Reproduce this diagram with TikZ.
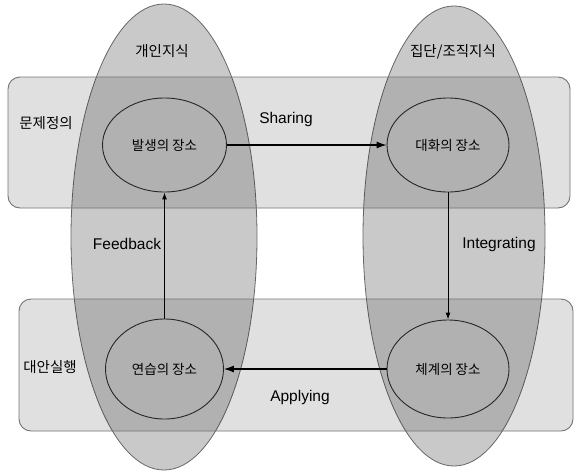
\documentclass[tikz,border=0pt]{standalone}
\usepackage{fontspec}
\setmainfont{Liberation Sans}
\newfontfamily\kr{Noto Sans CJK KR}
\usetikzlibrary{shapes.geometric,arrows.meta}
\begin{document}
\begin{tikzpicture}[x=1pt,y=-1pt,
  bigell/.style={ellipse, draw=black!60, line width=0.8pt, fill=black, fill opacity=0.21, inner sep=0pt},
  band/.style={rectangle, rounded corners=12pt, draw=black!55, line width=0.9pt, fill=black, fill opacity=0.12, inner sep=0pt},
  place/.style={ellipse, draw=black!85, line width=0.9pt, inner sep=0pt, font=\kr\fontsize{13.5}{15}\selectfont},
  krlbl/.style={font=\kr\fontsize{14.5}{16}\selectfont, inner sep=1pt},
  enlbl/.style={font=\fontsize{15.5}{18}\selectfont, inner sep=1pt},
  flow/.style={line width=1.1pt, -{Latex[length=10pt,width=7pt]}},
  flowsmall/.style={line width=1.0pt, -{Latex[length=7pt,width=5pt]}}]
  \useasboundingbox (0,0) rectangle (577,474);

  % knowledge columns
  \node[bigell, minimum width=186pt, minimum height=466pt] (indiv) at (164,237) {};
  \node[bigell, minimum width=182pt, minimum height=460pt] (group) at (454,236) {};

  % activity bands
  \node[band, minimum width=562pt, minimum height=131pt] (define) at (289,142.5) {};
  \node[band, minimum width=554pt, minimum height=132pt] (act) at (296,365) {};

  % column and band titles
  \node[krlbl] (indivT) at (162,51) {개인지식};
  \node[krlbl] (groupT) at (453,52) {집단/조직지식};
  \node[krlbl] (defineT) at (46,123) {문제정의};
  \node[krlbl] (actT) at (50,367) {대안실행};

  % places
  \node[place, minimum width=124pt, minimum height=94pt] (hb) at (164.5,145) {발생의 장소};
  \node[place, minimum width=122pt, minimum height=94pt] (dh) at (448,145) {대화의 장소};
  \node[place, minimum width=118pt, minimum height=100pt] (ys) at (164.5,369) {연습의 장소};
  \node[place, minimum width=122pt, minimum height=98pt] (cg) at (448,369) {체계의 장소};

  % knowledge flows
  \draw[flow] (hb.east) -- (dh.west);
  \draw[flowsmall] (dh.south) -- (cg.north);
  \draw[flow] (cg.west) -- (ys.east);
  \draw[flowsmall] (ys.north) -- (hb.south);

  \node[enlbl] (sharing) at (286,119) {Sharing};
  \node[enlbl] (integrating) at (499,244) {Integrating};
  \node[enlbl] (applying) at (300,397) {Applying};
  \node[enlbl] (feedback) at (127,244) {Feedback};
\end{tikzpicture}
\end{document}
